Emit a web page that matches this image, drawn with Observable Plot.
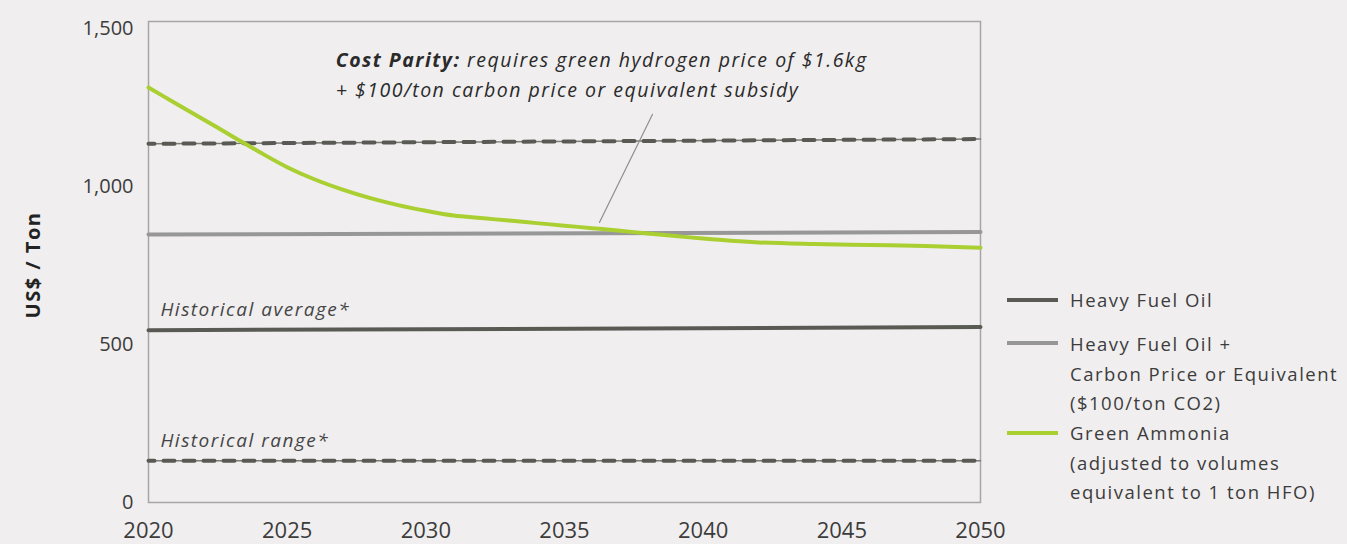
<!DOCTYPE html>
<html>
<head>
<meta charset="utf-8">
<script src="https://cdn.jsdelivr.net/npm/d3@7"></script>
<script src="https://cdn.jsdelivr.net/npm/@observablehq/plot@0.6"></script>
<style>
  html, body { margin: 0; padding: 0; background: #f0eeef; }
  #wrap { position: relative; width: 1347px; height: 544px; overflow: hidden; font-family: "Open Sans", sans-serif; }
  #legend { position: absolute; left: 0; top: 0; }
  .lg-swatch { position: absolute; left: 1007px; width: 51px; height: 4px; }
  .lg-text { position: absolute; left: 1070px; font-size: 18.5px; letter-spacing: 1.5px; color: #3c3c3c; line-height: 29.5px; white-space: nowrap; }
  g.parity text, g.hist text { letter-spacing: 1.5px; }
  #ytitle { position: absolute; left: 33px; top: 265px; transform: translate(-50%, -50%) rotate(-90deg); font-size: 20px; font-weight: bold; letter-spacing: 1.5px; color: #222; white-space: nowrap; line-height: 1; }
</style>
</head>
<body>
<div id="wrap"></div>
<script>
// ---- data ----
const lineYears = [2020, 2050];
const heavyFuelOil = [545, 555];
const hfoCarbon = [848, 856];
const rangeUpper = [1135, 1150];
const rangeLower = [132, 132];

const ammoniaYears = [2020, 2021, 2022, 2023, 2024, 2025, 2026, 2027, 2028, 2029, 2030, 2031, 2032, 2033, 2034, 2035, 2036, 2037, 2038, 2039, 2040, 2041, 2042, 2044, 2046, 2048, 2050];
const ammonia = [1313, 1262, 1211, 1160, 1109, 1061, 1022, 990, 963, 941, 923, 908, 900, 892, 884, 876, 868, 860, 851, 843, 835, 828, 823, 818, 815, 812, 806];

const yTicks = [0, 500, 1000, 1500];
const xTicks = [2020, 2025, 2030, 2035, 2040, 2045, 2050];
const yTitle = "US$ / Ton";

const seriesNames = ["Heavy Fuel Oil", "Heavy Fuel Oil +\nCarbon Price or Equivalent\n($100/ton CO2)", "Green Ammonia\n(adjusted to volumes\nequivalent to 1 ton HFO)"];
const seriesColors = ["#5a5a55", "#979797", "#a9cf31"];

const histLabels = [
  {year: 2020.43, value: 608, text: "Historical average*"},
  {year: 2020.43, value: 196, text: "Historical range*"}
];
const parityLines = [
  {year: 2026.75, value: 1399, text: "Cost Parity: requires green hydrogen price of $1.6kg"},
  {year: 2026.75, value: 1304, text: "+ $100/ton carbon price or equivalent subsidy"}
];
const leader = [{year: 2038.17, value: 1228}, {year: 2036.26, value: 886}];

// ---- build tables ----
const toRows = (xs, ys) => xs.map((x, i) => ({year: x, value: ys[i]}));
const hfoRows = toRows(lineYears, heavyFuelOil);
const carbonRows = toRows(lineYears, hfoCarbon);
const upperRows = toRows(lineYears, rangeUpper);
const lowerRows = toRows(lineYears, rangeLower);
const ammoniaRows = toRows(ammoniaYears, ammonia);

const font = "'Open Sans', sans-serif";

const chart = Plot.plot({
  width: 1347,
  height: 544,
  marginLeft: 148,
  marginRight: 367,
  marginTop: 21,
  marginBottom: 42,
  style: {background: "transparent", fontFamily: font, color: "#3c3c3c"},
  x: {domain: [2020, 2050]},
  y: {domain: [0, 1522]},
  marks: [
    Plot.frame({stroke: "#a6a6a6", strokeWidth: 1.5}),
    Plot.axisY({ticks: yTicks, tickSize: 0, tickPadding: 15, fontSize: 20, tickFormat: d3.format(","), label: null, fill: "#3c3c3c"}),
    Plot.axisX({ticks: xTicks, tickSize: 0, tickPadding: 20, fontSize: 22, tickFormat: d => String(d), label: null, fill: "#3c3c3c"}),
    // dashed historical range lines
    Plot.line(upperRows, {x: "year", y: "value", stroke: "#7d7d7a", strokeWidth: 1.5}),
    Plot.line(upperRows, {x: "year", y: "value", stroke: "#5a5a55", strokeWidth: 4, strokeDasharray: "11,9", strokeDashoffset: 5}),
    Plot.line(lowerRows, {x: "year", y: "value", stroke: "#7d7d7a", strokeWidth: 1.5}),
    Plot.line(lowerRows, {x: "year", y: "value", stroke: "#5a5a55", strokeWidth: 4, strokeDasharray: "11,9", strokeDashoffset: 5}),
    // solid lines
    Plot.line(hfoRows, {x: "year", y: "value", stroke: seriesColors[0], strokeWidth: 4}),
    Plot.line(carbonRows, {x: "year", y: "value", stroke: seriesColors[1], strokeWidth: 4}),
    Plot.line(ammoniaRows, {x: "year", y: "value", stroke: seriesColors[2], strokeWidth: 4, curve: "monotone-x"}),
    // leader line
    Plot.line(leader, {x: "year", y: "value", stroke: "#8f8f8f", strokeWidth: 1.2}),
    // text annotations
    Plot.text(histLabels, {x: "year", y: "value", text: "text", textAnchor: "start", fontSize: 19, fontStyle: "italic", fill: "#454545", className: "hist"}),
    Plot.text(parityLines, {x: "year", y: "value", text: "text", textAnchor: "start", fontSize: 19.5, fontStyle: "italic", fill: "#2a2a2a", className: "parity"})
  ]
});

// bold "Cost Parity:" prefix
d3.select(chart).selectAll("g.parity text").each(function() {
  const t = this.textContent;
  if (t.startsWith("Cost Parity:")) {
    const el = d3.select(this);
    el.text(null);
    el.append("tspan").attr("font-weight", "bold").text("Cost Parity:");
    el.append("tspan").text(t.slice("Cost Parity:".length));
  }
});

const wrap = document.getElementById("wrap");
wrap.appendChild(chart);

// y-axis title
const yt = document.createElement("div");
yt.id = "ytitle";
yt.textContent = yTitle;
wrap.appendChild(yt);

// legend
const legend = document.createElement("div");
legend.id = "legend";
const swatchY = [300, 343, 433];
const textTop = [300, 344, 433];
seriesNames.forEach((name, i) => {
  const sw = document.createElement("div");
  sw.className = "lg-swatch";
  sw.style.top = (swatchY[i] - 2) + "px";
  sw.style.background = seriesColors[i];
  legend.appendChild(sw);
  name.split("\n").forEach((line, j) => {
    const tx = document.createElement("div");
    tx.className = "lg-text";
    tx.style.top = (textTop[i] + j * 29.5 - 14.75) + "px";
    tx.textContent = line;
    legend.appendChild(tx);
  });
});
wrap.appendChild(legend);
</script>
</body>
</html>
